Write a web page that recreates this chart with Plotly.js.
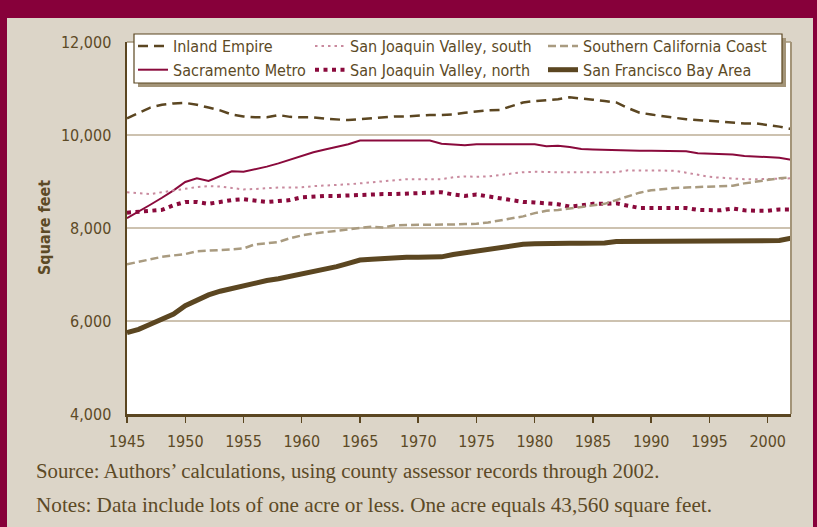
<!DOCTYPE html>
<html>
<head>
<meta charset="utf-8">
<script src="https://cdn.plot.ly/plotly-3.0.1.min.js"></script>
<style>
html,body{margin:0;padding:0;background:#dcd5c8;}
#chart{width:817px;height:527px;}
</style>
</head>
<body>
<div id="chart"></div>
<script>
const years = [1945,1946,1947,1948,1949,1950,1951,1952,1953,1954,1955,1956,1957,1958,1959,1960,1961,1962,1963,1964,1965,1966,1967,1968,1969,1970,1971,1972,1973,1974,1975,1976,1977,1978,1979,1980,1981,1982,1983,1984,1985,1986,1987,1988,1989,1990,1991,1992,1993,1994,1995,1996,1997,1998,1999,2000,2001,2002];

const inlandEmpire = [10360,10470,10590,10650,10680,10690,10650,10590,10530,10440,10400,10380,10380,10430,10390,10380,10380,10350,10330,10320,10340,10360,10380,10400,10400,10420,10430,10430,10440,10480,10510,10530,10540,10620,10700,10730,10750,10770,10810,10790,10760,10730,10700,10580,10480,10440,10400,10370,10340,10320,10300,10280,10260,10250,10250,10220,10180,10130];

const sacramentoMetro = [8210,8350,8500,8650,8810,8990,9070,9010,9120,9220,9210,9260,9320,9390,9470,9560,9630,9690,9750,9800,9880,9880,9880,9880,9880,9880,9880,9810,9800,9780,9800,9800,9800,9800,9800,9800,9760,9770,9740,9700,9690,9680,9670,9670,9660,9660,9660,9660,9650,9610,9600,9590,9580,9550,9540,9520,9510,9470];

const sjvSouth = [8770,8750,8730,8770,8810,8850,8880,8900,8890,8860,8830,8840,8860,8870,8870,8875,8900,8910,8925,8940,8960,8980,8995,9030,9050,9050,9050,9050,9090,9110,9100,9110,9140,9170,9200,9210,9200,9200,9200,9200,9200,9200,9200,9240,9245,9235,9235,9230,9190,9140,9100,9080,9060,9050,9050,9050,9060,9070];

const sjvNorth = [8330,8360,8370,8390,8490,8560,8560,8520,8570,8600,8620,8580,8560,8580,8600,8660,8680,8690,8690,8700,8730,8730,8730,8730,8740,8760,8760,8770,8720,8690,8720,8680,8640,8600,8560,8550,8540,8510,8460,8500,8520,8520,8530,8480,8430,8430,8430,8430,8430,8390,8380,8380,8420,8380,8370,8370,8400,8400];

const soCalCoast = [7220,7270,7330,7380,7410,7440,7500,7510,7520,7540,7560,7650,7670,7700,7780,7840,7880,7910,7950,7980,7995,8030,8010,8060,8065,8065,8065,8065,8075,8085,8090,8120,8160,8200,8250,8320,8370,8385,8420,8460,8490,8520,8600,8680,8760,8810,8840,8860,8870,8880,8900,8905,8910,8960,9000,9040,9070,9090];

const sfBayArea = [5750,5820,5930,6050,6150,6330,6450,6560,6640,6700,6760,6820,6870,6910,6960,7010,7060,7110,7170,7240,7310,7330,7350,7370,7370,7370,7370,7380,7430,7470,7510,7550,7580,7620,7650,7660,7670,7670,7670,7670,7670,7680,7710,7710,7710,7710,7710,7710,7710,7710,7710,7710,7710,7710,7710,7710,7730,7780];

const xTickVals = [1945,1950,1955,1960,1965,1970,1975,1980,1985,1990,1995,2000];
const xTickText = ['1945','1950','1955','1960','1965','1970','1975','1980','1985','1990','1995','2000'];
const yTickVals = [4000,6000,8000,10000,12000];
const yTickText = ['4,000','6,000','8,000','10,000','12,000'];

const names = ['Inland Empire','Sacramento Metro','San Joaquin Valley, south','San Joaquin Valley, north','Southern California Coast','San Francisco Bay Area'];

const BROWN = '#5b4621';
const TEXT = '#5c4a26';
const MAROON = '#8a0a3c';
const BG = '#dcd5c8';
const COND = '"Liberation Sans Narrow", "DejaVu Sans Condensed", "Roboto Condensed", "Arial Narrow", sans-serif';
const SERIF = '"Liberation Serif", "DejaVu Serif", serif';

const traces = [
  {x: years, y: inlandEmpire, name: names[0], legend: 'legend', line: {color: BROWN, width: 2.5, dash: '10px,6px'}},
  {x: years, y: sacramentoMetro, name: names[1], legend: 'legend', line: {color: MAROON, width: 2}},
  {x: years, y: sjvSouth, name: names[2], legend: 'legend2', line: {color: '#c98a9e', width: 2, dash: '2.5px,4px'}},
  {x: years, y: sjvNorth, name: names[3], legend: 'legend2', line: {color: MAROON, width: 4, dash: '4px,4.5px'}},
  {x: years, y: soCalCoast, name: names[4], legend: 'legend3', line: {color: '#a99b80', width: 2.5, dash: '8px,4px'}},
  {x: years, y: sfBayArea, name: names[5], legend: 'legend3', line: {color: BROWN, width: 5}}
].map(t => Object.assign({type: 'scatter', mode: 'lines', hoverinfo: 'skip'}, t));

const W = 817, H = 527;
const L = 127, R = 791, T = 42, B = 414;
function px(x){ return (x - L) / (R - L); }
function py(y){ return (B - y) / (B - T); }

function legendCfg(xPix){
  return {
    xref: 'container', yref: 'container',
    x: xPix / W, y: 1 - 29 / H,
    xanchor: 'left', yanchor: 'top',
    bgcolor: 'rgba(0,0,0,0)', borderwidth: 0,
    font: {family: COND, size: 16, color: TEXT},
    itemwidth: 30, tracegroupgap: 0, orientation: 'v',
    itemclick: false, itemdoubleclick: false
  };
}

const shapes = [
  // maroon frame
  {type: 'rect', xref: 'paper', yref: 'paper', x0: px(0), x1: px(W), y0: py(0), y1: py(18), fillcolor: '#87003a', line: {width: 0}, layer: 'below'},
  {type: 'rect', xref: 'paper', yref: 'paper', x0: px(0), x1: px(7), y0: py(0), y1: py(H), fillcolor: '#87003a', line: {width: 0}, layer: 'below'},
  {type: 'rect', xref: 'paper', yref: 'paper', x0: px(813), x1: px(W), y0: py(0), y1: py(H), fillcolor: '#87003a', line: {width: 0}, layer: 'below'},
  // plot frame top/right
  {type: 'line', xref: 'paper', yref: 'paper', x0: 0, x1: 1, y0: 1, y1: 1, line: {color: '#a39478', width: 1.5}, layer: 'above'},
  {type: 'line', xref: 'paper', yref: 'paper', x0: 1, x1: 1, y0: 0, y1: 1, line: {color: '#a39478', width: 2}, layer: 'above'},
  // legend shadow and box
  {type: 'rect', xref: 'paper', yref: 'paper', x0: px(138), x1: px(786), y0: py(87), y1: py(38), fillcolor: '#a39478', line: {width: 0}, layer: 'above'},
  {type: 'rect', xref: 'paper', yref: 'paper', x0: px(134), x1: px(782), y0: py(83), y1: py(34), fillcolor: '#ffffff', line: {color: BROWN, width: 1.2}, layer: 'above'}
];

const annotations = [
  {xref: 'paper', yref: 'paper', x: px(44), y: py(228), text: '<b>Square feet</b>', textangle: -90, showarrow: false, xanchor: 'center', yanchor: 'middle', font: {family: COND, size: 16, color: TEXT}},
  {xref: 'paper', yref: 'paper', x: px(34), y: py(471), text: 'Source: Authors’ calculations, using county assessor records through 2002.', showarrow: false, xanchor: 'left', yanchor: 'middle', font: {family: SERIF, size: 20.8, color: TEXT}},
  {xref: 'paper', yref: 'paper', x: px(34), y: py(505), text: 'Notes: Data include lots of one acre or less. One acre equals 43,560 square feet.', showarrow: false, xanchor: 'left', yanchor: 'middle', font: {family: SERIF, size: 21.2, color: TEXT}}
];

const layout = {
  width: W, height: H,
  paper_bgcolor: BG, plot_bgcolor: '#ffffff',
  margin: {l: L, r: W - R, t: T, b: H - B, pad: 0, autoexpand: false},
  showlegend: true,
  legend: legendCfg(133),
  legend2: legendCfg(310),
  legend3: legendCfg(543),
  xaxis: {
    range: [1945, 2002], tickmode: 'array', tickvals: xTickVals, ticktext: xTickText,
    ticks: 'outside', ticklen: 6, tickwidth: 1.5, tickcolor: BROWN,
    showline: true, linecolor: BROWN, linewidth: 2.5, showgrid: false, zeroline: false,
    tickfont: {family: COND, size: 16, color: TEXT}, ticklabelstandoff: 5, fixedrange: true, automargin: false
  },
  yaxis: {
    range: [4000, 12000], tickmode: 'array', tickvals: yTickVals, ticktext: yTickText,
    ticks: '', showline: true, linecolor: BROWN, linewidth: 2.5,
    showgrid: true, gridcolor: '#cdc2b0', gridwidth: 1.5, zeroline: false,
    tickfont: {family: COND, size: 16, color: TEXT}, ticklabelstandoff: 10, fixedrange: true, automargin: false
  },
  shapes: shapes,
  annotations: annotations
};

Plotly.newPlot('chart', traces, layout, {displayModeBar: false, staticPlot: true});
</script>
</body>
</html>
